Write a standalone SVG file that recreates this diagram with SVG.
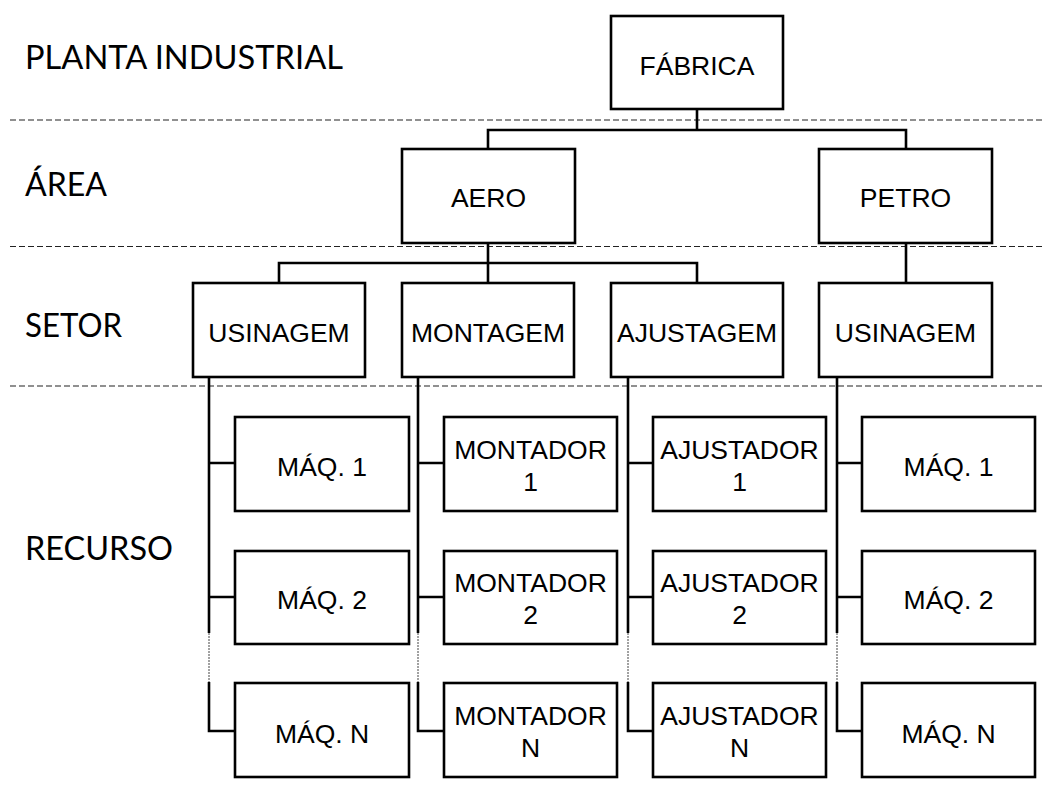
<svg xmlns="http://www.w3.org/2000/svg" width="1043" height="786" viewBox="0 0 1043 786">
<style>
.box{fill:#fff;stroke:#000;stroke-width:2.6}
.t{font-family:"Liberation Sans",Arial,sans-serif;font-size:26.5px;text-anchor:middle;fill:#000}
.lvl{font-family:Lato,"Open Sans",sans-serif;font-size:32px;fill:#000}
.sep{stroke:#222;stroke-width:1.2;stroke-dasharray:6,3;fill:none}
.c{stroke:#000;stroke-width:2.6;fill:none}
.dot{stroke:#444;stroke-width:1;stroke-dasharray:2,1;fill:none}
</style>
<rect width="1043" height="786" fill="#fff"/>
<g id="levels">
<text class="lvl" x="25" y="69" textLength="318" lengthAdjust="spacingAndGlyphs">PLANTA INDUSTRIAL</text>
<text class="lvl" x="25" y="196" textLength="82" lengthAdjust="spacingAndGlyphs">ÁREA</text>
<text class="lvl" x="25" y="337" textLength="97" lengthAdjust="spacingAndGlyphs">SETOR</text>
<text class="lvl" x="25" y="560" textLength="148" lengthAdjust="spacingAndGlyphs">RECURSO</text>
</g>
<g id="separators">
<line class="sep" x1="10" y1="120" x2="1043" y2="120"/>
<line class="sep" x1="10" y1="246.5" x2="1043" y2="246.5"/>
<line class="sep" x1="10" y1="386" x2="1043" y2="386"/>
</g>
<g id="connectors">
<path class="c" d="M697,109 V130 M488,149 V130 H906 V149"/>
<path class="c" d="M488,243 V263 M279,283 V263 H697 V283 M488,263 V283"/>
<path class="c" d="M906,243 V283"/>
<path class="c" d="M209,377 V633 M209,682 V731 H235 M209,463 H235 M209,597 H235"/>
<path class="c" d="M418,377 V633 M418,682 V731 H444 M418,463 H444 M418,597 H444"/>
<path class="c" d="M628,377 V633 M628,682 V731 H653 M628,463 H653 M628,597 H653"/>
<path class="c" d="M837,377 V633 M837,682 V731 H862 M837,463 H862 M837,597 H862"/>
<path class="dot" d="M209,633 V682 M418,633 V682 M628,633 V682 M837,633 V682"/>
</g>
<g id="fabrica"><rect class="box" x="611" y="16" width="172" height="93"/><text class="t" x="697" y="74.5">FÁBRICA</text></g>
<g id="aero"><rect class="box" x="402" y="149" width="173" height="94"/><text class="t" x="488.5" y="207">AERO</text></g>
<g id="petro"><rect class="box" x="819" y="149" width="173" height="94"/><text class="t" x="905.5" y="207">PETRO</text></g>
<g id="usinagem-aero"><rect class="box" x="193" y="283" width="172" height="94"/><text class="t" x="279" y="342">USINAGEM</text></g>
<g id="montagem"><rect class="box" x="402" y="283" width="172" height="94"/><text class="t" x="488" y="342">MONTAGEM</text></g>
<g id="ajustagem"><rect class="box" x="611" y="283" width="172" height="94"/><text class="t" x="697" y="342">AJUSTAGEM</text></g>
<g id="usinagem-petro"><rect class="box" x="819" y="283" width="173" height="94"/><text class="t" x="905.5" y="342">USINAGEM</text></g>
<g id="maq1-aero"><rect class="box" x="235" y="417" width="174" height="94"/><text class="t" x="322" y="476">MÁQ. 1</text></g>
<g id="maq2-aero"><rect class="box" x="235" y="551" width="174" height="93"/><text class="t" x="322" y="609">MÁQ. 2</text></g>
<g id="maqn-aero"><rect class="box" x="235" y="683" width="174" height="94"/><text class="t" x="322" y="743">MÁQ. N</text></g>
<g id="montador1"><rect class="box" x="444" y="417" width="173" height="94"/><text class="t" x="530.5" y="459">MONTADOR</text><text class="t" x="530.5" y="491">1</text></g>
<g id="montador2"><rect class="box" x="444" y="551" width="173" height="93"/><text class="t" x="530.5" y="592">MONTADOR</text><text class="t" x="530.5" y="624">2</text></g>
<g id="montadorn"><rect class="box" x="444" y="683" width="173" height="94"/><text class="t" x="530.5" y="725">MONTADOR</text><text class="t" x="530.5" y="757">N</text></g>
<g id="ajustador1"><rect class="box" x="653" y="417" width="173" height="94"/><text class="t" x="739.5" y="459">AJUSTADOR</text><text class="t" x="739.5" y="491">1</text></g>
<g id="ajustador2"><rect class="box" x="653" y="551" width="173" height="93"/><text class="t" x="739.5" y="592">AJUSTADOR</text><text class="t" x="739.5" y="624">2</text></g>
<g id="ajustadorn"><rect class="box" x="653" y="683" width="173" height="94"/><text class="t" x="739.5" y="725">AJUSTADOR</text><text class="t" x="739.5" y="757">N</text></g>
<g id="maq1-petro"><rect class="box" x="862" y="417" width="173" height="94"/><text class="t" x="948.5" y="476">MÁQ. 1</text></g>
<g id="maq2-petro"><rect class="box" x="862" y="551" width="173" height="93"/><text class="t" x="948.5" y="609">MÁQ. 2</text></g>
<g id="maqn-petro"><rect class="box" x="862" y="683" width="173" height="94"/><text class="t" x="948.5" y="743">MÁQ. N</text></g>
</svg>
